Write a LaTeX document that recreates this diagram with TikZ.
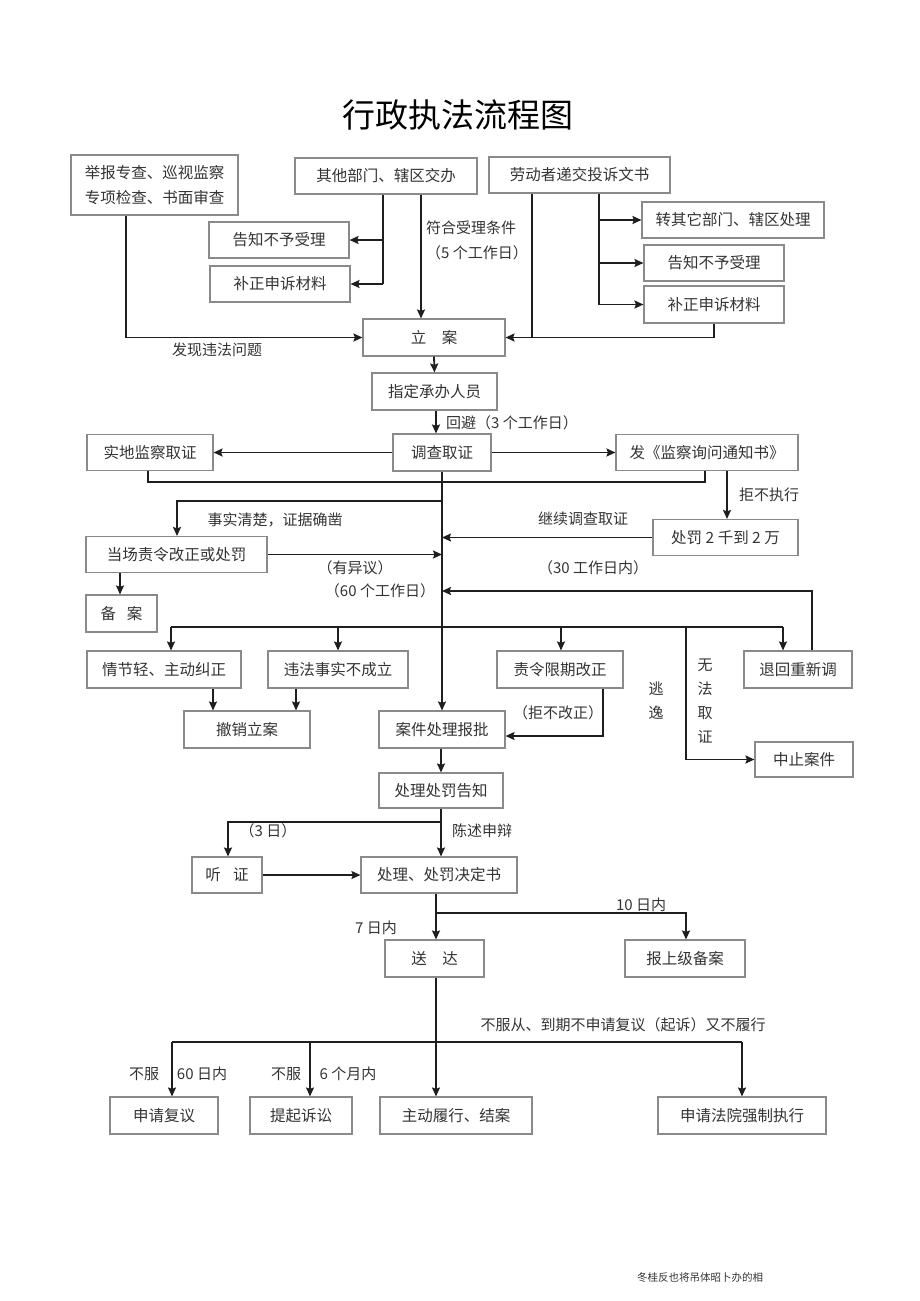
\documentclass[tikz,border=0pt]{standalone}
\usepackage{fontspec}
\setmainfont{Noto Sans CJK SC}
\newfontfamily\cjk{Noto Sans CJK SC}
\usetikzlibrary{arrows.meta}
\definecolor{boxgray}{HTML}{8A8A8A}
\definecolor{linecol}{HTML}{1E1E1E}
\definecolor{txt}{HTML}{333333}
\tikzset{
  bx/.style={draw=boxgray, line width=1.1pt, inner sep=0pt, text=txt, font=\cjk\fontsize{15.5}{25}\selectfont, align=center},
  lbl/.style={inner sep=0pt, text=txt, font=\cjk\fontsize{15}{24}\selectfont, align=center},
  ln/.style={draw=linecol, line width=1.8pt},
  arr/.style={ln, -{Stealth[length=9pt,width=8pt,inset=1.5pt]}}
}
\begin{document}
\begin{tikzpicture}[x=1pt,y=-1pt]
\useasboundingbox (0,0) rectangle (920,1301);
\node[inner sep=0pt, font=\cjk\fontsize{33}{33}\selectfont] (title) at (458,115) {行政执法流程图};

% boxes
\node[bx, minimum width=167pt, minimum height=60pt] (jubao) at (154.5,185) {举报专查、巡视监察\\专项检查、书面审查};
\node[bx, minimum width=182pt, minimum height=36pt] (qita) at (386,176) {其他部门、辖区交办};
\node[bx, minimum width=140pt, minimum height=36pt] (gaozhiL) at (279,240) {告知不予受理};
\node[bx, minimum width=140pt, minimum height=36pt] (buzhengL) at (280,284) {补正申诉材料};
\node[bx, minimum width=181pt, minimum height=36pt] (laodong) at (579.5,175) {劳动者递交投诉文书};
\node[bx, minimum width=182pt, minimum height=36pt] (zhuan) at (733,220) {转其它部门、辖区处理};
\node[bx, minimum width=140pt, minimum height=36pt] (gaozhiR) at (714,263) {告知不予受理};
\node[bx, minimum width=140pt, minimum height=37pt] (buzhengR) at (714,304.5) {补正申诉材料};
\node[bx, minimum width=142pt, minimum height=37pt] (lian) at (434,337.5) {立\hspace{1em}案};
\node[bx, minimum width=125pt, minimum height=37pt] (zhiding) at (434.5,391.5) {指定承办人员};
\node[bx, minimum width=98pt, minimum height=37pt] (diaocha) at (442,452.5) {调查取证};
\node[bx, minimum width=126pt, minimum height=36pt] (shidi) at (150,452.5) {实地监察取证};
\node[bx, minimum width=182pt, minimum height=36pt] (fa) at (707,452.5) {发《监察询问通知书》};
\node[bx, minimum width=145pt, minimum height=36pt] (chufa) at (725.5,537.5) {处罚 2 千到 2 万};
\node[bx, minimum width=181pt, minimum height=36pt] (dangchang) at (176.5,554.5) {当场责令改正或处罚};
\node[bx, minimum width=71pt, minimum height=37pt] (beian) at (121.5,613.5) {备\hspace{0.7em}案};
\node[bx, minimum width=154pt, minimum height=37pt] (qingjie) at (164,669.5) {情节轻、主动纠正};
\node[bx, minimum width=140pt, minimum height=37pt] (weifa) at (338,669.5) {违法事实不成立};
\node[bx, minimum width=126pt, minimum height=37pt] (zeling) at (560,669.5) {责令限期改正};
\node[bx, minimum width=108pt, minimum height=37pt] (tuihui) at (798,669.5) {退回重新调};
\node[bx, minimum width=126pt, minimum height=37pt] (chexiao) at (247,729.5) {撤销立案};
\node[bx, minimum width=126pt, minimum height=37pt] (anjian) at (442,729.5) {案件处理报批};
\node[bx, minimum width=98pt, minimum height=35pt] (zhongzhi) at (804,759.5) {中止案件};
\node[bx, minimum width=124pt, minimum height=35pt] (gaozhi2) at (441,790.5) {处理处罚告知};
\node[bx, minimum width=70pt, minimum height=36pt] (tingzheng) at (227,875) {听\hspace{0.8em}证};
\node[bx, minimum width=156pt, minimum height=36pt] (jueding) at (439,875) {处理、处罚决定书};
\node[bx, minimum width=99pt, minimum height=37pt] (songda) at (434.5,958.5) {送\hspace{1em}达};
\node[bx, minimum width=120pt, minimum height=37pt] (baoshang) at (685,958.5) {报上级备案};
\node[bx, minimum width=108pt, minimum height=37pt] (fuyi) at (164,1115.5) {申请复议};
\node[bx, minimum width=102pt, minimum height=37pt] (susong) at (301,1115.5) {提起诉讼};
\node[bx, minimum width=152pt, minimum height=37pt] (zhudong) at (456,1115.5) {主动履行、结案};
\node[bx, minimum width=168pt, minimum height=37pt] (qiangzhi) at (742,1115.5) {申请法院强制执行};

% labels
\node[lbl, anchor=west] (l1) at (426,228) {符合受理条件};
\node[lbl, anchor=west] (l2) at (426,253) {（5 个工作日）};
\node[lbl] (l3) at (217,350) {发现违法问题};
\node[lbl, anchor=west] (l4) at (446,423) {回避（3 个工作日）};
\node[lbl] (l5) at (275,520) {事实清楚，证据确凿};
\node[lbl] (l6) at (583,519) {继续调查取证};
\node[lbl] (l7) at (769,495) {拒不执行};
\node[lbl] (l8) at (355,568) {（有异议）};
\node[lbl] (l9) at (593,568) {（30 工作日内）};
\node[lbl] (l10) at (380,591) {（60 个工作日）};
\node[lbl] (l11) at (558,713) {（拒不改正）};
\node[lbl] (l12) at (656,700.5) {逃\\逸};
\node[lbl] (l13) at (705,701) {无\\法\\取\\证};
\node[lbl] (l14) at (482,831) {陈述申辩};
\node[lbl] (l15) at (268,831) {（3 日）};
\node[lbl] (l16) at (641,905) {10 日内};
\node[lbl] (l17) at (376,928) {7 日内};
\node[lbl] (l18) at (623,1025) {不服从、到期不申请复议（起诉）又不履行};
\node[lbl] (l19) at (144,1074) {不服};
\node[lbl] (l20) at (202,1074) {60 日内};
\node[lbl] (l21) at (286,1074) {不服};
\node[lbl] (l22) at (348,1074) {6 个月内};
\node[inner sep=0pt, text=txt, font=\cjk\fontsize{10.5}{11}\selectfont] (foot) at (700,1278) {冬桂反也将吊体昭卜办的相};

% connectors: top
\draw[ln] (383,0 |- qita.south) -- (383,0 |- buzhengL.east);
\draw[arr] (383,0 |- gaozhiL.east) -- (gaozhiL.east);
\draw[arr] (383,0 |- buzhengL.east) -- (buzhengL.east);
\draw[arr] (421,0 |- qita.south) -- (421,0 |- lian.north);
\draw[arr] (126,0 |- jubao.south) |- (lian.west);
\draw[ln] (599,0 |- laodong.south) -- (599,0 |- buzhengR.west);
\draw[arr] (599,0 |- zhuan.west) -- (zhuan.west);
\draw[arr] (599,0 |- gaozhiR.west) -- (gaozhiR.west);
\draw[arr] (599,0 |- buzhengR.west) -- (buzhengR.west);
\draw[ln] (532,0 |- laodong.south) -- (532,0 |- lian.east);
\draw[arr] (714,0 |- buzhengR.south) |- (lian.east);
\draw[arr] (lian.south) -- (zhiding.north);
\draw[arr] (436,0 |- zhiding.south) -- (436,0 |- diaocha.north);

% investigation
\draw[arr] (diaocha.west) -- (shidi.east);
\draw[arr] (diaocha.east) -- (fa.west);
\draw[ln] (148,0 |- shidi.south) -- (148,482) -- (705,482) -- (705,0 |- fa.south);
\draw[arr] (442,0 |- diaocha.south) -- (anjian.north);
\draw[arr] (442,501) -- (177,501) -- (177,0 |- dangchang.north);
\draw[arr] (dangchang.east) -- (442,0 |- dangchang.east);
\draw[arr] (120,0 |- dangchang.south) -- (120,0 |- beian.north);
\draw[arr] (727,0 |- fa.south) -- (727,0 |- chufa.north);
\draw[arr] (chufa.west) -- (442,0 |- chufa.west);
\draw[arr] (812,0 |- tuihui.north) -- (812,591) -- (442,591);

% branch row
\draw[ln] (171,627) -- (783,627);
\draw[arr] (171,627) -- (171,0 |- qingjie.north);
\draw[arr] (338,627) -- (weifa.north);
\draw[arr] (561,627) -- (561,0 |- zeling.north);
\draw[arr] (783,627) -- (783,0 |- tuihui.north);
\draw[arr] (686,627) |- (zhongzhi.west);
\draw[arr] (213,0 |- qingjie.south) -- (213,0 |- chexiao.north);
\draw[arr] (296,0 |- weifa.south) -- (296,0 |- chexiao.north);
\draw[arr] (603,0 |- zeling.south) -- (603,736) -- (anjian.east |- 0,736);

% lower part
\draw[arr] (441,0 |- anjian.south) -- (441,0 |- gaozhi2.north);
\draw[arr] (441,0 |- gaozhi2.south) -- (441,0 |- jueding.north);
\draw[arr] (441,822) -- (228,822) -- (228,0 |- tingzheng.north);
\draw[arr] (tingzheng.east) -- (jueding.west);
\draw[arr] (436,0 |- jueding.south) -- (436,0 |- songda.north);
\draw[arr] (436,913) -- (686,913) -- (686,0 |- baoshang.north);
\draw[arr] (436,0 |- songda.south) -- (436,0 |- zhudong.north);
\draw[ln] (172,1042) -- (742,1042);
\draw[arr] (172,1042) -- (172,0 |- fuyi.north);
\draw[arr] (310,1042) -- (310,0 |- susong.north);
\draw[arr] (742,1042) -- (qiangzhi.north);
\end{tikzpicture}
\end{document}
